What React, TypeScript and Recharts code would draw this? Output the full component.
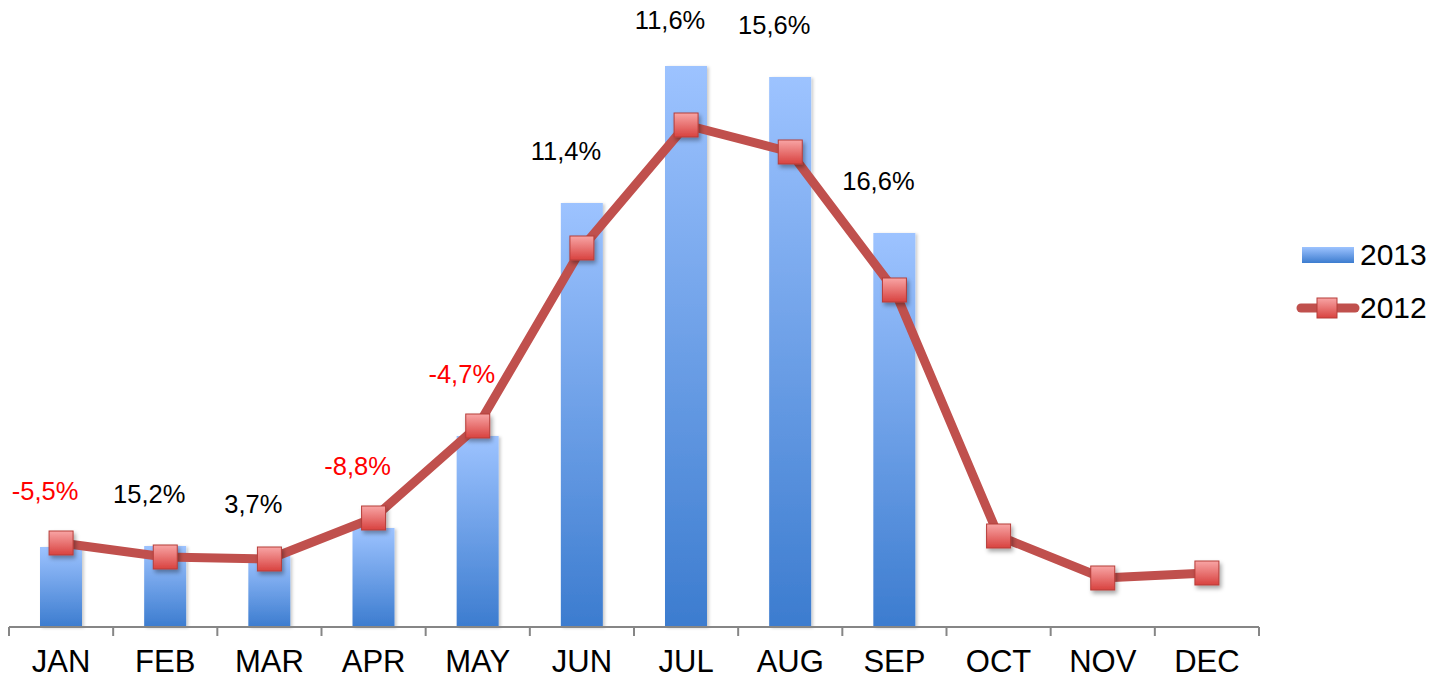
import React from "react";
import { ComposedChart, Bar, Line, XAxis, YAxis, Legend, LabelList } from "recharts";

const months = ["JAN", "FEB", "MAR", "APR", "MAY", "JUN", "JUL", "AUG", "SEP", "OCT", "NOV", "DEC"];
const sales2013 = [80, 81, 71, 99, 191, 424, 561, 550, 394, null, null, null];
const sales2012 = [84, 70, 68, 109, 201, 379, 502, 475, 337, 91, 49, 54];
const growth = ["-5,5%", "15,2%", "3,7%", "-8,8%", "-4,7%", "11,4%", "11,6%", "15,6%", "16,6%", "", "", ""];

const W = 1433;
const H = 678;
const margin = { top: 27, right: 174, left: 9, bottom: 0 };
const BAND = (W - margin.left - margin.right) / months.length;
const FONT = '"Liberation Sans", Arial, sans-serif';

const data = months.map((m, i) => ({
    month: m,
    y2013: sales2013[i],
    y2012: sales2012[i],
    peak: Math.max(sales2013[i] ?? 0, sales2012[i] ?? 0),
    growth: growth[i],
}));

const MonthTick = (props: any) => {
    const { x, y, payload, index } = props;
    const last = index === months.length - 1;
    return (
        <g>
            <line x1={x - BAND / 2} x2={x - BAND / 2} y1={y} y2={y + 9} stroke="#868686" strokeWidth={2} />
            {last && <line x1={x + BAND / 2} x2={x + BAND / 2} y1={y} y2={y + 9} stroke="#868686" strokeWidth={2} />}
            <text x={x} y={y + 23} dy="0.71em" textAnchor="middle" fontSize={31} fontFamily={FONT} fill="#000">
                {payload.value}
            </text>
        </g>
    );
};

const SquareDot = (props: any) => {
    const { cx, cy, index } = props;
    if (cx == null || cy == null) return <g key={index} />;
    return (
        <rect key={index} x={cx - 12} y={cy - 12} width={24} height={24}
            fill="url(#markerGrad)" stroke="#B63C39" strokeWidth={1} filter="url(#dropShadow)" />
    );
};

// growth labels sit above the taller of bar / line, kept inside the frame
const GrowthLabel = (props: any) => {
    const { x, y, value } = props;
    if (!value) return null;
    const neg = String(value).startsWith("-");
    return (
        <text x={x - 16} y={Math.max(y - 50, 22)} dominantBaseline="middle" textAnchor="middle"
            fontSize={25.5} fontFamily={FONT} fill={neg ? "#FF0000" : "#000"}>
            {value}
        </text>
    );
};

const LegendBox = () => (
    <div style={{ fontFamily: FONT, fontSize: 30, color: "#000" }}>
        <div style={{ display: "flex", alignItems: "center", height: 40 }}>
            <svg width={65} height={40}>
                <defs>
                    <linearGradient id="legBar" x1="0" y1="0" x2="0" y2="1">
                        <stop offset="0%" stopColor="#9DC3FF" />
                        <stop offset="100%" stopColor="#3C7CCF" />
                    </linearGradient>
                </defs>
                <rect x={7} y={12} width={52} height={16} fill="url(#legBar)" />
            </svg>
            <span>2013</span>
        </div>
        <div style={{ display: "flex", alignItems: "center", height: 40, marginTop: 13 }}>
            <svg width={65} height={40}>
                <defs>
                    <linearGradient id="legMarker" x1="0" y1="0" x2="0" y2="1">
                        <stop offset="0%" stopColor="#F8A5A5" />
                        <stop offset="100%" stopColor="#D8423F" />
                    </linearGradient>
                </defs>
                <line x1={6} x2={60} y1={20} y2={20} stroke="#C0504D" strokeWidth={9} strokeLinecap="round" />
                <rect x={22} y={10} width={20} height={20} fill="url(#legMarker)" stroke="#B63C39" strokeWidth={1} />
            </svg>
            <span>2012</span>
        </div>
    </div>
);

export default function App() {
    return (
        <div style={{ position: "absolute", left: 0, top: 0, width: W, height: H, background: "#fff" }}>
            <ComposedChart width={W} height={H} data={data} margin={margin}>
                <defs>
                    <linearGradient id="barGrad" x1="0" y1="0" x2="0" y2="1">
                        <stop offset="0%" stopColor="#9DC3FF" />
                        <stop offset="100%" stopColor="#3C7CCF" />
                    </linearGradient>
                    <linearGradient id="markerGrad" x1="0" y1="0" x2="0" y2="1">
                        <stop offset="0%" stopColor="#F8A5A5" />
                        <stop offset="100%" stopColor="#D8423F" />
                    </linearGradient>
                    <filter id="dropShadow" x="-30%" y="-30%" width="170%" height="170%">
                        <feDropShadow dx={2} dy={3} stdDeviation={2} floodColor="#000" floodOpacity={0.35} />
                    </filter>
                    <filter id="barShadow" x="-20%" y="-5%" width="140%" height="110%">
                        <feDropShadow dx={2} dy={1} stdDeviation={1.5} floodColor="#000" floodOpacity={0.2} />
                    </filter>
                </defs>
                <XAxis dataKey="month" height={51} tickLine={false} tickSize={0} tickMargin={0}
                    axisLine={{ stroke: "#868686", strokeWidth: 2 }} tick={<MonthTick />} interval={0} />
                <YAxis hide domain={[0, 600]} />
                <Legend layout="vertical" align="center" verticalAlign="middle" content={<LegendBox />}
                    wrapperStyle={{ left: 1295, top: 235, width: 138, height: 95 }} />
                <Bar dataKey="y2013" name="2013" barSize={42} fill="url(#barGrad)" filter="url(#barShadow)"
                    isAnimationActive={false} />
                <Line dataKey="y2012" name="2012" stroke="#C0504D" strokeWidth={9} strokeLinejoin="round"
                    dot={SquareDot} activeDot={false} isAnimationActive={false} />
                <Line dataKey="peak" stroke="none" dot={false} activeDot={false} legendType="none"
                    isAnimationActive={false}>
                    <LabelList dataKey="growth" content={<GrowthLabel />} />
                </Line>
            </ComposedChart>
        </div>
    );
}
